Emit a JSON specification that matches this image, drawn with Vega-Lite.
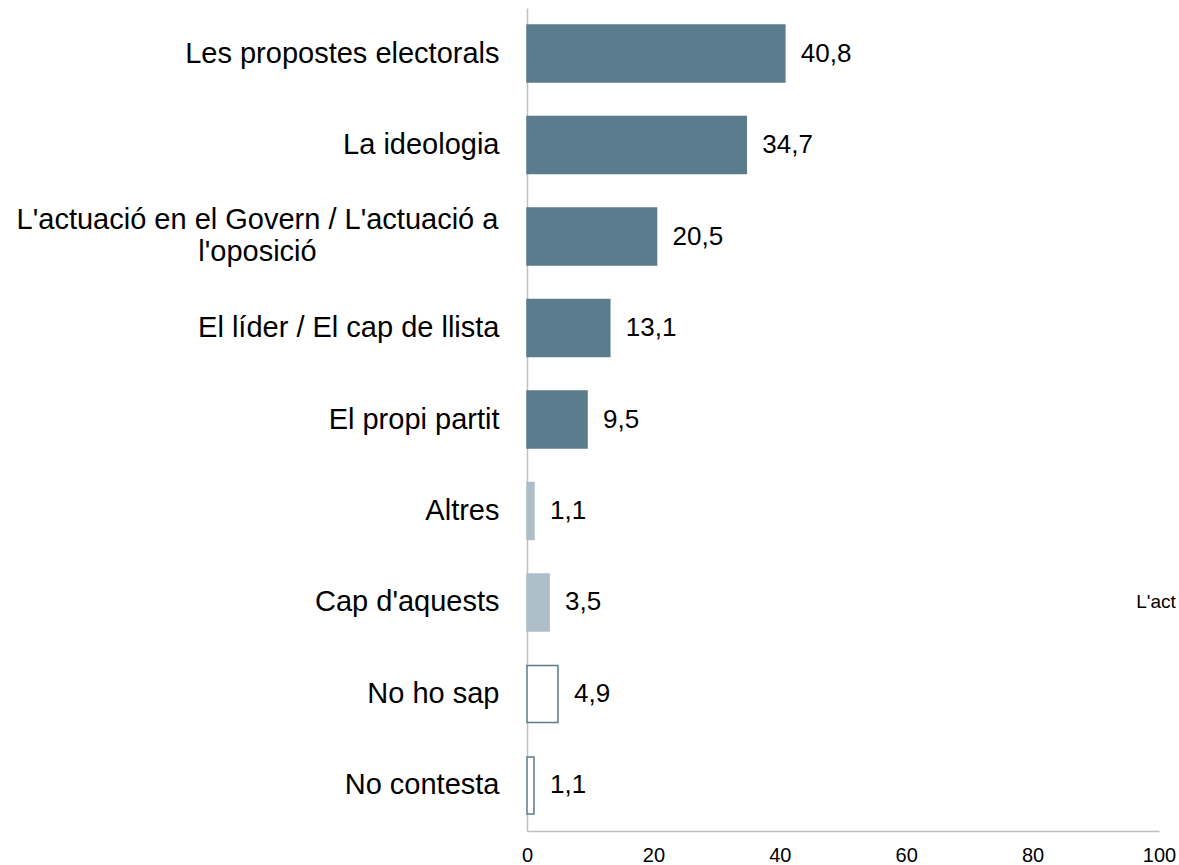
{
  "$schema": "https://vega.github.io/schema/vega-lite/v6.json",
  "width": 632,
  "height": 823,
  "autosize": "none",
  "padding": {"left": 527, "top": 8, "right": 20, "bottom": 34},
  "background": "#ffffff",
  "config": {
    "view": {"stroke": null},
    "font": "Liberation Sans",
    "locale": {"number": {"decimal": ",", "thousands": ".", "grouping": [3], "currency": ["", " €"]}}
  },
  "data": {
    "values": [
      {"cat": "Les propostes electorals", "value": 40.8, "grp": "main"},
      {"cat": "La ideologia", "value": 34.7, "grp": "main"},
      {"cat": "L'actuació en el Govern / L'actuació a l'oposició", "value": 20.5, "grp": "main"},
      {"cat": "El líder / El cap de llista", "value": 13.1, "grp": "main"},
      {"cat": "El propi partit", "value": 9.5, "grp": "main"},
      {"cat": "Altres", "value": 1.1, "grp": "other"},
      {"cat": "Cap d'aquests", "value": 3.5, "grp": "other"},
      {"cat": "No ho sap", "value": 4.9, "grp": "nsnc"},
      {"cat": "No contesta", "value": 1.1, "grp": "nsnc"}
    ]
  },
  "encoding": {
    "y": {
      "field": "cat",
      "type": "nominal",
      "sort": null,
      "title": null,
      "scale": {"paddingInner": 0.377, "paddingOuter": 0.186},
      "axis": {
        "domainColor": "#c0c0c0",
        "domainWidth": 1.5,
        "ticks": false,
        "labelPadding": {"condition": {"test": "datum.value == \"L'actuació en el Govern / L'actuació a l'oposició\"", "value": 270}, "value": 28},
        "labelAlign": {"condition": {"test": "datum.value == \"L'actuació en el Govern / L'actuació a l'oposició\"", "value": "center"}, "value": "right"},
        "labelOffset": {"condition": {"test": "datum.value == \"L'actuació en el Govern / L'actuació a l'oposició\"", "value": -17}, "value": 0},
        "labelFontSize": 29,
        "labelColor": "#000000",
        "labelLimit": 600,
        "labelLineHeight": 32,
        "labelExpr": "datum.value == \"L'actuació en el Govern / L'actuació a l'oposició\" ? [\"L'actuació en el Govern / L'actuació a\", \"l'oposició\"] : datum.value"
      }
    }
  },
  "layer": [
    {
      "mark": {"type": "bar", "strokeWidth": 1.5},
      "encoding": {
        "x": {
          "field": "value",
          "type": "quantitative",
          "title": null,
          "scale": {"domain": [0, 100], "nice": false},
          "axis": {
            "values": [0, 20, 40, 60, 80, 100],
            "grid": false,
            "ticks": false,
            "domainColor": "#c0c0c0",
            "domainWidth": 1.5,
            "labelPadding": 14,
            "labelFontSize": 20,
            "labelColor": "#000000",
            "labelFlush": false,
            "format": "d"
          }
        },
        "fill": {
          "field": "grp",
          "type": "nominal",
          "legend": null,
          "scale": {"domain": ["main", "other", "nsnc"], "range": ["#5b7c8d", "#adbec9", "#ffffff"]}
        },
        "stroke": {
          "field": "grp",
          "type": "nominal",
          "legend": null,
          "scale": {"domain": ["main", "other", "nsnc"], "range": ["#5b7c8d", "#adbec9", "#5b7c8d"]}
        }
      }
    },
    {
      "mark": {"type": "text", "align": "left", "baseline": "middle", "dx": 16, "fontSize": 26, "color": "#000000"},
      "encoding": {
        "x": {"field": "value", "type": "quantitative"},
        "text": {"field": "value", "type": "quantitative", "format": ".1f"}
      }
    },
    {
      "data": {"values": [{"cat": "Cap d'aquests", "value": 96.4, "note": "L'act"}]},
      "mark": {"type": "text", "align": "left", "baseline": "middle", "fontSize": 19, "color": "#000000"},
      "encoding": {
        "x": {"field": "value", "type": "quantitative"},
        "text": {"field": "note"}
      }
    }
  ]
}
